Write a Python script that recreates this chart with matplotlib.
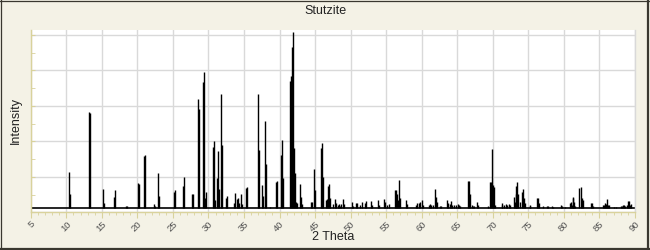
import matplotlib
matplotlib.use("Agg")
import matplotlib.pyplot as plt
import numpy as np
from matplotlib.lines import Line2D
from matplotlib.ticker import MultipleLocator, FixedLocator

plt.rcParams['font.family'] = ['Liberation Sans', 'DejaVu Sans']

title = "Stutzite"
xlabel = "2 Theta"
ylabel = "Intensity"
x_ticks = list(range(5, 95, 5))

two_theta = [
    10.42, 10.56, 13.15, 13.29, 15.20, 15.35, 16.75, 16.90, 18.45, 18.59,
    20.13, 20.27, 20.97, 21.11, 22.38, 22.52, 22.94, 23.08, 25.19, 25.33,
    26.46, 26.60, 27.65, 27.79, 28.57, 28.71, 29.27, 29.41, 29.55, 29.69,
    30.68, 30.82, 30.96, 31.24, 31.38, 31.52, 31.80, 31.94, 32.50, 32.64,
    33.63, 33.77, 34.05, 34.19, 34.33, 34.58, 34.72, 35.33, 35.47, 36.97,
    37.11, 37.58, 37.72, 38.00, 38.14, 38.70, 39.50, 39.64, 40.25, 40.39,
    40.53, 41.47, 41.61, 41.75, 41.89, 42.03, 42.17, 42.31, 42.50, 42.90,
    43.04, 43.18, 44.45, 44.60, 44.87, 45.00, 45.85, 45.99, 46.13, 46.55,
    46.70, 46.83, 46.97, 47.10, 47.57, 47.86, 48.00, 48.27, 48.40, 48.55,
    48.70, 48.97, 49.10, 50.24, 50.38, 50.80, 50.94, 51.36, 51.64, 52.06,
    52.20, 52.90, 53.05, 53.90, 54.04, 54.74, 54.88, 55.16, 55.44, 56.29,
    56.43, 56.57, 56.71, 56.86, 57.00, 57.84, 57.98, 59.24, 59.38, 59.66,
    59.80, 60.09, 60.23, 61.07, 61.21, 61.35, 61.63, 61.92, 62.06, 62.20,
    62.62, 62.76, 63.62, 63.75, 64.03, 64.17, 64.31, 64.59, 64.87, 65.15,
    65.29, 65.43, 66.56, 66.70, 66.84, 67.12, 67.26, 67.40, 67.82, 67.96,
    69.40, 69.68, 69.82, 69.96, 70.10, 70.24, 70.38, 71.23, 71.37, 71.65,
    71.93, 72.07, 72.22, 72.36, 72.92, 73.06, 73.20, 73.34, 73.48, 73.62,
    73.77, 74.18, 74.32, 74.46, 74.60, 75.17, 75.31, 76.27, 76.40, 76.55,
    77.10, 77.68, 77.82, 78.38, 78.52, 79.65, 79.80, 80.23, 80.80, 80.94,
    81.08, 81.22, 81.36, 81.50, 81.64, 82.20, 82.35, 82.49, 82.63, 83.76,
    83.90, 84.05, 85.46, 85.60, 85.74, 85.88, 86.02, 86.16, 86.30, 87.00,
    87.30, 88.00, 88.15, 88.30, 88.43, 88.57, 88.85, 89.00, 89.13, 89.27,
    89.40,
]
intensity = [
    20.7, 8.1, 54.5, 54.0, 10.9, 3.0, 6.4, 10.5, 1.3, 1.3,
    14.1, 13.6, 29.6, 30.2, 2.4, 1.3, 20.0, 7.0, 9.4, 10.4,
    12.6, 17.7, 8.1, 8.1, 61.9, 56.0, 71.7, 77.0, 5.8, 9.4,
    34.5, 38.1, 4.7, 17.0, 32.4, 10.9, 65.0, 35.8, 6.0, 7.1,
    3.2, 8.5, 5.1, 6.0, 2.8, 7.9, 2.3, 11.3, 11.9, 64.7,
    33.0, 13.2, 7.1, 49.4, 25.0, 0.7, 15.0, 15.6, 30.2, 38.7,
    17.0, 72.0, 75.0, 91.4, 100.0, 34.0, 20.0, 3.5, 3.2, 13.8,
    6.6, 2.5, 3.7, 3.7, 22.3, 10.4, 34.0, 37.0, 17.9, 4.7,
    5.5, 12.5, 13.6, 6.0, 2.4, 5.3, 2.7, 1.9, 2.4, 1.3,
    2.5, 5.3, 2.2, 3.4, 1.3, 2.8, 2.8, 1.9, 3.7, 2.8,
    4.2, 4.2, 1.9, 4.7, 1.9, 5.3, 3.8, 1.9, 2.4, 10.4,
    10.4, 8.1, 4.7, 16.0, 5.7, 4.7, 2.4, 1.9, 2.8, 2.8,
    3.8, 4.7, 1.9, 1.9, 2.4, 1.9, 1.9, 10.9, 6.6, 3.8,
    1.3, 1.3, 4.7, 2.8, 2.4, 4.2, 1.9, 1.9, 1.9, 2.4,
    1.9, 1.3, 15.4, 15.4, 7.9, 1.9, 1.3, 1.0, 3.4, 1.9,
    1.3, 15.0, 15.0, 33.6, 13.2, 12.0, 1.9, 2.8, 1.9, 1.9,
    2.4, 1.9, 2.4, 1.9, 6.6, 3.8, 8.3, 12.5, 15.0, 7.9,
    3.8, 9.4, 10.9, 5.7, 2.8, 1.9, 1.3, 6.0, 5.7, 2.8,
    1.0, 1.3, 1.0, 1.0, 0.7, 1.9, 1.0, 0.7, 2.8, 3.7,
    1.9, 6.6, 5.7, 3.8, 1.0, 11.3, 11.9, 5.7, 4.7, 2.8,
    2.8, 1.3, 1.9, 1.9, 2.8, 2.3, 5.1, 1.9, 1.9, 0.7,
    0.7, 1.3, 1.3, 1.9, 1.9, 1.3, 1.9, 4.2, 4.2, 1.9,
    2.4,
]

W, H = 650, 250
BG = '#F4F2E6'
KHAKI = '#D9D29C'
GRID = '#D9D9D9'

fig = plt.figure(figsize=(W / 100, H / 100), dpi=100, facecolor=BG)
ax = fig.add_axes([30.8 / W, (H - 212.3) / H, (634.9 - 30.8) / W, (212.3 - 30) / H])
ax.set_facecolor('white')

xmin, xmax = 5, 90
ax.set_xlim(xmin, xmax)
ax.set_ylim(-2.3, 101.0)

ax.vlines(two_theta, 0, intensity, colors='black', linewidth=1.0)
ax.hlines(0, xmin, xmax, colors='black', linewidth=1.2)

ax.xaxis.set_major_locator(FixedLocator(x_ticks))
ax.xaxis.set_minor_locator(MultipleLocator(1))
yt = np.arange(-2.3, 101, 20.1)
ax.yaxis.set_major_locator(FixedLocator(yt))
ax.yaxis.set_minor_locator(FixedLocator(yt + 10.05))

ax.grid(True, which='major', color=GRID, linewidth=1.0)
ax.set_axisbelow(True)

ax.spines['top'].set_visible(False)
ax.spines['right'].set_color(GRID)
ax.spines['left'].set_color(KHAKI)
ax.spines['bottom'].set_color(KHAKI)
for s in ['left', 'bottom', 'right']:
    ax.spines[s].set_linewidth(1.0)

ax.tick_params(axis='x', which='major', direction='out', length=4, color=KHAKI,
               labelsize=6.8, labelcolor='#505050', pad=1)
ax.tick_params(axis='x', which='minor', direction='out', length=2.5, color=KHAKI)
ax.tick_params(axis='y', which='both', direction='in', length=3, color=KHAKI,
               labelleft=False)
ax.set_xticklabels([str(t) for t in x_ticks], rotation=45, ha='right', va='top',
                   rotation_mode='anchor')

fig.text(0.5, 1 - 10.5 / H, title, ha='center', va='center', fontsize=9, color='#222222')
fig.text(333 / W, 1 - 237 / H, xlabel, ha='center', va='center', fontsize=9, color='#222222')
fig.text(16 / W, 1 - 121 / H, ylabel, ha='center', va='center', rotation=90,
         fontsize=9, color='#222222')

# outer frame
fc = '#3A3830'
fig.add_artist(Line2D([0, 1], [1 - 0.5 / H, 1 - 0.5 / H], transform=fig.transFigure, color=fc, lw=0.9))
fig.add_artist(Line2D([0.5 / W, 0.5 / W], [0, 1], transform=fig.transFigure, color=fc, lw=0.9))
fig.add_artist(Line2D([1 - 2 / W, 1 - 2 / W], [0, 1], transform=fig.transFigure, color=fc, lw=1.6))
fig.add_artist(Line2D([0, 1], [1.5 / H, 1.5 / H], transform=fig.transFigure, color=fc, lw=1.6))

fig.savefig('out.png', dpi=100, facecolor=BG)
